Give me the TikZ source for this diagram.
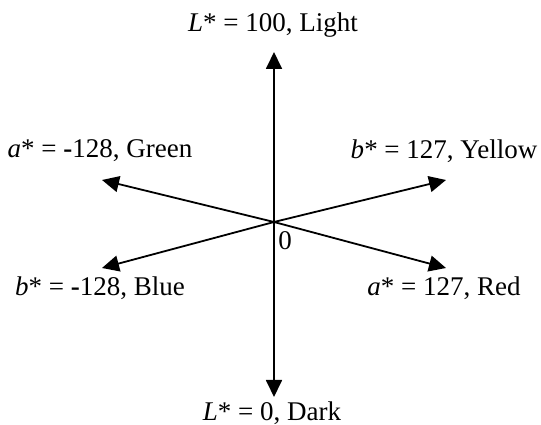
\documentclass[tikz,border=0pt]{standalone}
\usepackage{fontspec}
\setmainfont{Liberation Serif}
\usetikzlibrary{arrows.meta}
\begin{document}
\begin{tikzpicture}[x=1pt,y=1pt]
\useasboundingbox (0,0) rectangle (541,425);
\tikzset{axis/.style={line width=1.8pt, -{Triangle[length=17pt,width=16pt]}},
  lbl/.style={font=\fontsize{27}{32}\selectfont, inner sep=0pt}}
\coordinate (O) at (274,203);
\coordinate (Ltop) at (274,373);
\coordinate (Lbot) at (274,28);
\coordinate (green) at (102,245);
\coordinate (yellow) at (446,245);
\coordinate (blue) at (102,157);
\coordinate (red) at (446,157);

\node[lbl] (light) at (273,400) {\textit{L}* = 100, Light};
\node[lbl] (dark) at (272,12) {\textit{L}* = 0, Dark};
\node[lbl] (gr) at (100,274) {\textit{a}* = \textbf{-}128, Green};
\node[lbl] (ye) at (444,274) {\textit{b}* = 127, Yellow};
\node[lbl] (bl) at (100,137) {\textit{b}* = \textbf{-}128, Blue};
\node[lbl] (re) at (444,137) {\textit{a}* = 127, Red};
\node[lbl] (zero) at (285,184) {0};

\draw[axis] (O) -- (Ltop);
\draw[axis] (O) -- (Lbot);
\draw[axis] (O) -- (green);
\draw[axis] (O) -- (yellow);
\draw[axis] (O) -- (blue);
\draw[axis] (O) -- (red);
\end{tikzpicture}
\end{document}
